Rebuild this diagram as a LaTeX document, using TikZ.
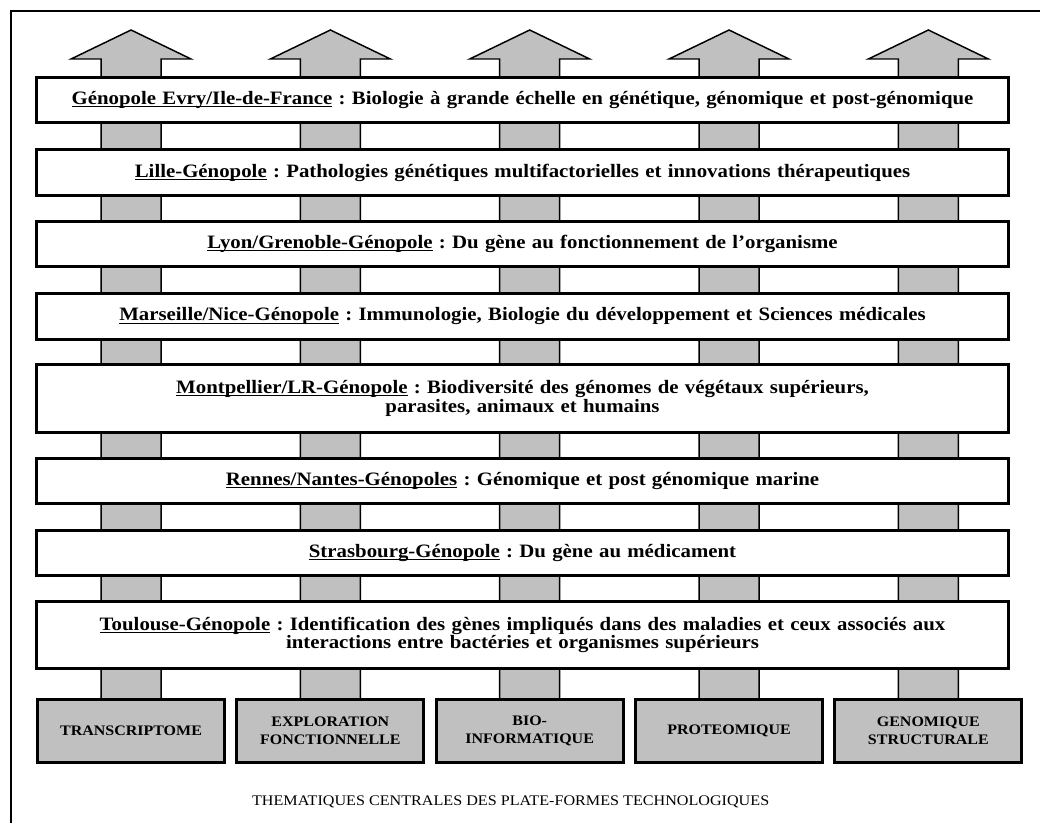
\documentclass[tikz,border=0pt]{standalone}
\usepackage{fontspec}
\setmainfont[FakeStretch=1.1]{Liberation Serif}
\usetikzlibrary{positioning, backgrounds, calc}
\definecolor{pfgray}{HTML}{C0C0C0}
\newsavebox\ulbox
\newcommand{\poleul}[1]{\sbox\ulbox{#1}\rlap{\rule[-1.9pt]{\wd\ulbox}{0.75pt}}\usebox\ulbox}
\frenchspacing

\begin{document}
\begin{tikzpicture}[
    pole/.style={rectangle, draw=black, fill=white, line width=2.25pt,
                 minimum width=729pt, minimum height=34pt, text width=722pt,
                 align=center, font=\fontsize{14.2}{13.8}\selectfont\bfseries},
    platform/.style={rectangle, draw=black, fill=pfgray, line width=2.25pt,
                     minimum width=140.25pt, minimum height=47.25pt, text width=130pt,
                     align=center, font=\fontsize{10.9}{13.5}\selectfont\bfseries},
    shaft/.style={draw=black, fill=pfgray, line width=1.1pt, line join=miter}
  ]
    \useasboundingbox (0,0) rectangle (780pt,-617.25pt);
    \draw[line width=0.8pt] (8.25pt,-8.25pt) rectangle (800pt,-640pt);

    \node[pole, anchor=north] (evry) at (391.9pt,-57pt) {\poleul{Génopole Evry/Ile-de-France} : Biologie à grande échelle en génétique, génomique et post-génomique};
    \node[pole, below=18pt of evry] (lille) {\poleul{Lille-Génopole} : Pathologies génétiques multifactorielles et innovations thérapeutiques};
    \node[pole, below=17.5pt of lille] (lyon) {\poleul{Lyon/Grenoble-Génopole} : Du gène au fonctionnement de l’organisme};
    \node[pole, below=18pt of lyon] (marseille) {\poleul{Marseille/Nice-Génopole} : Immunologie, Biologie du développement et Sciences médicales};
    \node[pole, minimum height=50.5pt, below=17pt of marseille] (montpellier) {\poleul{Montpellier/LR-Génopole} : Biodiversité des génomes de végétaux supérieurs,\\ parasites, animaux et humains};
    \node[pole, below=17.5pt of montpellier] (rennes) {\poleul{Rennes/Nantes-Génopoles} : Génomique et post génomique marine};
    \node[pole, below=17.5pt of rennes] (strasbourg) {\poleul{Strasbourg-Génopole} : Du gène au médicament};
    \node[pole, minimum height=50.5pt, below=17pt of strasbourg] (toulouse) {\poleul{Toulouse-Génopole} : Identification des gènes impliqués dans des maladies et ceux associés aux\\ interactions entre bactéries et organismes supérieurs};

    \node[platform, anchor=north west] (transcrip) at ([shift={(0.75pt,-21pt)}]toulouse.south west) {TRANSCRIPTOME};
    \node[platform, right=7pt of transcrip] (explor) {EXPLORATION\\FONCTIONNELLE};
    \node[platform, right=7pt of explor] (bioinfo) {BIO-\\INFORMATIQUE};
    \node[platform, right=7pt of bioinfo] (proteo) {PROTEOMIQUE};
    \node[platform, right=7pt of proteo] (genostruct) {GENOMIQUE\\STRUCTURALE};

    \node[font=\fontsize{11}{13}\selectfont] (caption) at (383pt,-601.5pt) {THEMATIQUES CENTRALES DES PLATE-FORMES TECHNOLOGIQUES};

    % big arrows running behind the genopoles
    \begin{scope}[on background layer]
      \foreach \pf in {transcrip, explor, bioinfo, proteo, genostruct}
        \draw[shaft] let \p1=(\pf.north), \p2=(evry.north) in
          (\x1-22.5pt,\y1) -- (\x1-22.5pt,\y2+12.75pt) -- (\x1-45pt,\y2+12.75pt)
          -- (\x1,\y2+34.5pt) -- (\x1+45pt,\y2+12.75pt) -- (\x1+22.5pt,\y2+12.75pt)
          -- (\x1+22.5pt,\y1);
    \end{scope}
  \end{tikzpicture}
\end{document}
